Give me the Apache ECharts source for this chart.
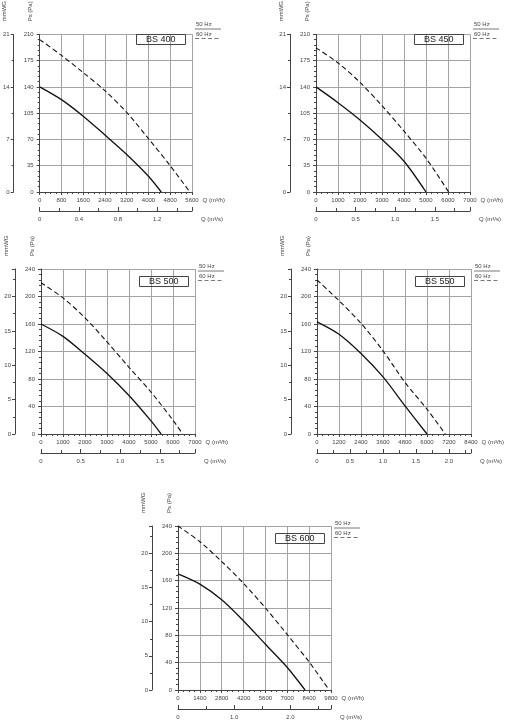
<!DOCTYPE html>
<html>
<head>
<meta charset="utf-8">
<script src="https://cdn.jsdelivr.net/npm/echarts@6/dist/echarts.min.js"></script>
<style>
  html, body { margin: 0; padding: 0; background: #fff; }
  #chart { width: 506px; height: 720px; }
</style>
</head>
<body>
<div id="chart"></div>
<script>
// fan models and axis scales
const models = ['BS 400', 'BS 450', 'BS 500', 'BS 550', 'BS 600'];
const flowMax = [5600, 7000, 7000, 8400, 9800];      // Q (m³/h)
const flowStep = [800, 1000, 1000, 1200, 1400];
const flowSecStep = [0.4, 0.5, 0.5, 0.5, 1.0];       // Q (m³/s)
const psMax = [210, 210, 240, 240, 240];             // Ps (Pa)
const psStep = [35, 35, 40, 40, 40];
const mmMax = [21, 21, 24, 24, 24];                  // mmWG
const mmStep = [7, 7, 5, 5, 5];

// 50 Hz curves (solid)
const q50 = [
  [0, 800, 1600, 2400, 3200, 4000, 4470],
  [0, 1000, 2000, 3000, 4000, 5000],
  [0, 1000, 2000, 3000, 4000, 5000, 5460],
  [0, 1200, 2400, 3600, 4800, 6000],
  [0, 1400, 2800, 4200, 5600, 7000, 8140]
];
const ps50 = [
  [140, 123, 101, 76, 50, 21, 0],
  [140, 119, 96, 70, 41, 0],
  [160, 142, 116, 88, 56, 19, 0],
  [163, 145, 117, 83, 41, 0],
  [170, 155, 132, 101, 67, 33, 0]
];

// 60 Hz curves (dashed)
const q60 = [
  [0, 800, 1600, 2400, 3200, 4000, 4800, 5520],
  [0, 1000, 2000, 3000, 4000, 5000, 6030],
  [0, 1000, 2000, 3000, 4000, 5000, 6000, 6440],
  [0, 1200, 2400, 3600, 4800, 6000, 7000],
  [0, 1400, 2800, 4200, 5600, 7000, 8400, 9680]
];
const ps60 = [
  [203, 182, 159, 135, 106, 71, 35, 0],
  [192, 172, 146, 115, 81, 45, 0],
  [220, 198, 169, 134, 97, 61, 20, 0],
  [224, 194, 161, 121, 75, 36, 0],
  [240, 217, 188, 156, 120, 81, 41, 0]
];

// layout of the five plot areas
const boxes = [
  { left: 38, top: 27, width: 154, height: 165 },
  { left: 316, top: 27, width: 154, height: 165 },
  { left: 41, top: 269, width: 154, height: 165 },
  { left: 317, top: 269, width: 154, height: 165 },
  { left: 178, top: 526, width: 153, height: 164 }
];

const FONT = 'Liberation Sans, Arial, sans-serif';
const ink = '#444';
const txt = { fontSize: 6, color: '#444', fontFamily: FONT };

const chart = echarts.init(document.getElementById('chart'), null, { renderer: 'canvas' });

const grid = [], xAxis = [], yAxis = [], series = [], title = [], graphic = [];

function pairs(xs, ys) {
  return xs.map((x, k) => [x, ys[k]]);
}

models.forEach((name, i) => {
  const b = boxes[i];
  grid.push({ left: b.left, top: b.top, width: b.width, height: b.height, containLabel: false });

  const xName = {
    nameLocation: 'end', nameGap: 9,
    nameTextStyle: { ...txt, verticalAlign: 'top', padding: [5, 0, 0, 0] }
  };

  // Q (m³/h)
  xAxis.push({
    type: 'value', gridIndex: i, position: 'bottom',
    min: 0, max: flowMax[i], interval: flowStep[i],
    name: 'Q (m³/h)', ...xName,
    axisLine: { onZero: false, lineStyle: { color: ink, width: 1 } },
    axisTick: { length: 3, lineStyle: { color: ink } },
    minorTick: { show: true, splitNumber: 4, length: 2, lineStyle: { color: ink } },
    axisLabel: { ...txt, margin: 5, formatter: v => String(v) },
    splitLine: { show: true, lineStyle: { color: '#a4a4a4', width: 1 } }
  });

  // Q (m³/s)
  const step = flowSecStep[i];
  xAxis.push({
    type: 'value', gridIndex: i, position: 'bottom', offset: 19,
    min: 0, max: flowMax[i] / 3600, interval: step,
    name: 'Q (m³/s)', ...xName,
    axisLine: { onZero: false, lineStyle: { color: ink, width: 1 } },
    axisTick: { inside: true, length: 4, lineStyle: { color: ink } },
    minorTick: { show: true, splitNumber: 2, length: 3, lineStyle: { color: ink } },
    axisLabel: {
      ...txt, margin: 5,
      formatter: v => {
        const r = v / step;
        if (Math.abs(r - Math.round(r)) > 1e-6) return '';
        return v === 0 ? '0' : v.toFixed(1);
      }
    },
    splitLine: { show: false }
  });

  const yName = {
    nameLocation: 'end', nameRotate: 90, nameGap: 13,
    nameTextStyle: { ...txt, verticalAlign: 'bottom', padding: [0, 0, 6, 0] }
  };

  // Ps (Pa)
  yAxis.push({
    type: 'value', gridIndex: i, position: 'left',
    min: 0, max: psMax[i], interval: psStep[i],
    name: 'Ps (Pa)', ...yName,
    axisLine: { show: true, onZero: false, lineStyle: { color: ink, width: 1 } },
    axisTick: { show: true, length: 3, lineStyle: { color: ink } },
    minorTick: { show: true, splitNumber: 5, length: 2, lineStyle: { color: ink } },
    axisLabel: { ...txt, margin: 6 },
    splitLine: { show: true, lineStyle: { color: '#a4a4a4', width: 1 } }
  });

  // mmWG
  yAxis.push({
    type: 'value', gridIndex: i, position: 'left', offset: 26,
    min: 0, max: mmMax[i], interval: mmStep[i],
    name: 'mmWG', ...yName,
    axisLine: { show: true, onZero: false, lineStyle: { color: ink, width: 1 } },
    axisTick: { show: true, length: 3, lineStyle: { color: ink } },
    minorTick: { show: true, splitNumber: 2, length: 2, lineStyle: { color: ink } },
    axisLabel: {
      ...txt, margin: 4,
      formatter: v => (v % mmStep[i] === 0 ? String(v) : '')
    },
    splitLine: { show: false }
  });

  series.push({
    name: name + ' 50 Hz', type: 'line', xAxisIndex: 2 * i, yAxisIndex: 2 * i,
    data: pairs(q50[i], ps50[i]), smooth: 0.3, symbol: 'none',
    lineStyle: { color: '#111', width: 1.3 }, silent: true
  });
  series.push({
    name: name + ' 60 Hz', type: 'line', xAxisIndex: 2 * i, yAxisIndex: 2 * i,
    data: pairs(q60[i], ps60[i]), smooth: 0.3, symbol: 'none',
    lineStyle: { color: '#111', width: 1.1, type: [5, 3] }, silent: true
  });

  const right = b.left + b.width;
  title.push({
    text: name, left: right - 56, top: b.top + 7,
    borderWidth: 1, borderColor: '#444', padding: [1, 10],
    textStyle: { fontSize: 9, fontWeight: 'normal', color: '#222', fontFamily: FONT }
  });

  // 50 Hz / 60 Hz key beside each plot
  const lx = right + 4, ty = b.top;
  graphic.push(
    { type: 'text', x: lx, y: ty - 3, style: { text: '50 Hz', fontSize: 6, fill: '#444', fontFamily: FONT, verticalAlign: 'middle' } },
    { type: 'line', shape: { x1: lx - 1, y1: ty + 2, x2: lx + 25, y2: ty + 2 }, style: { stroke: '#555', lineWidth: 0.8 } },
    { type: 'text', x: lx, y: ty + 7, style: { text: '60 Hz', fontSize: 6, fill: '#444', fontFamily: FONT, verticalAlign: 'middle' } },
    { type: 'line', shape: { x1: lx - 1, y1: ty + 11.5, x2: lx + 25, y2: ty + 11.5 }, style: { stroke: '#555', lineWidth: 0.8, lineDash: [4, 2.5] } }
  );
});

chart.setOption({
  backgroundColor: '#fff',
  animation: false,
  title: title,
  grid: grid,
  xAxis: xAxis,
  yAxis: yAxis,
  series: series,
  graphic: graphic
});
</script>
</body>
</html>
